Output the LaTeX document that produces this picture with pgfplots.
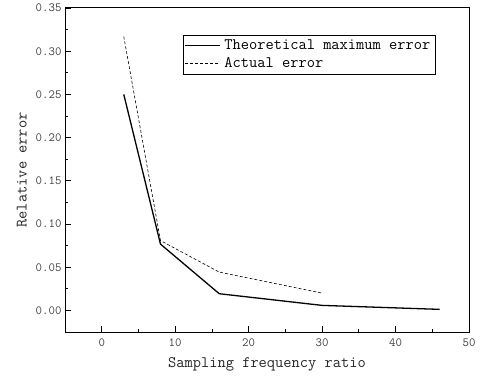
\documentclass[border=0pt]{standalone}
\usepackage{pgfplots}
\pgfplotsset{compat=1.18}
\begin{document}
\begin{tikzpicture}
\begin{axis}[
  scale only axis,
  width=404pt, height=324pt,
  xmin=-5, xmax=50, ymin=-0.025, ymax=0.35,
  xtick={0,10,20,30,40,50},
  ytick={0,0.05,0.1,0.15,0.2,0.25,0.3,0.35},
  minor x tick num=1, minor y tick num=1,
  xtick pos=bottom, ytick pos=left,
  tick align=inside,
  major tick length=6pt, minor tick length=3pt,
  axis line style={line width=1pt},
  every tick/.style={black, line width=0.8pt},
  /pgf/number format/assume math mode=true,
  ticklabel style={font=\ttfamily\fontsize{12.5}{14}\selectfont, text=black!75},
  xticklabel style={yshift=-3pt},
  yticklabel style={/pgf/number format/.cd, fixed, fixed zerofill, precision=2},
  xlabel={Sampling frequency ratio},
  ylabel={Relative error},
  label style={font=\ttfamily\fontsize{16}{18}\selectfont, text=black!85},
  xlabel style={yshift=-4pt},
  ylabel style={yshift=2pt},
  legend style={at={(0.293,0.918)}, anchor=north west, draw=black, line width=0.8pt,
    font=\ttfamily\fontsize{16}{16}\selectfont, inner xsep=1pt, inner ysep=1.5pt, row sep=0pt,
    nodes={inner xsep=4pt, inner ysep=2pt, text height=11pt, text depth=3pt}},
  legend cell align=left,
  legend image code/.code={\draw[#1, line width=0.6pt] (0pt,0pt) -- (35pt,0pt);},
]
\addplot[black, line width=1.3pt] coordinates {(3,0.25) (8,0.0767) (16,0.0193) (30,0.0058) (46,0.0012)};
\addlegendentry{Theoretical maximum error}
\addplot[black, line width=0.6pt, densely dashed] coordinates {(3,0.317) (8,0.0808) (16,0.0443) (30,0.020)};
\addlegendentry{Actual error}
\coordinate (ll) at (rel axis cs:0,0);
\coordinate (ur) at (rel axis cs:1,1);
\end{axis}
\pgfresetboundingbox
\path ([shift={(-65pt,-50pt)}]ll) rectangle ([shift={(17pt,8pt)}]ur);
\end{tikzpicture}
\end{document}
